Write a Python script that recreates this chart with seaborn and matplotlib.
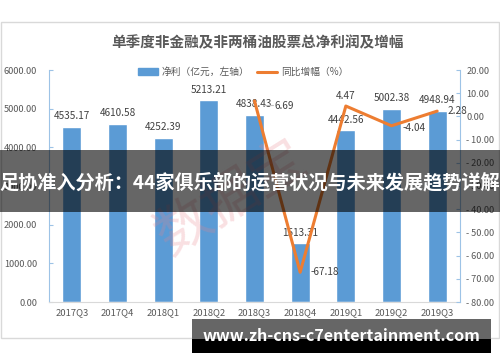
import matplotlib
matplotlib.use("Agg")
import matplotlib.pyplot as plt
import numpy as np
import pandas as pd
import seaborn as sns
from matplotlib.patches import Rectangle
from matplotlib.lines import Line2D

# ---------------- data ----------------
quarters = ["2017Q3", "2017Q4", "2018Q1", "2018Q2", "2018Q3",
            "2018Q4", "2019Q1", "2019Q2", "2019Q3"]
net_profit = [4535.17, 4610.58, 4252.39, 5213.21, 4838.43,
              1513.31, 4442.56, 5002.38, 4948.94]
growth_quarters = ["2018Q3", "2018Q4", "2019Q1", "2019Q2", "2019Q3"]
growth = [6.69, -67.18, 4.47, -4.04, 2.28]
left_ticks = [0, 1000, 2000, 3000, 4000, 5000, 6000]
right_ticks = [-80, -70, -60, -50, -40, -30, -20, -10, 0, 10, 20]
title = "单季度非金融及非两桶油股票总净利润及增幅"
legend_labels = ["净利（亿元，左轴）", "同比增幅（%）"]
banner_text = "足协准入分析：44家俱乐部的运营状况与未来发展趋势详解"
url_text = "www.zh-cns-c7entertainment.com"
watermark_text = "数据宝"

# ---------------- style ----------------
sns.set_style("white")
plt.rcParams["font.family"] = ["Noto Sans CJK SC", "DejaVu Sans"]

BLUE = "#5B9BD5"
ORANGE = "#ED7D31"
SPINE_BLUE = "#9DC3E6"
GRAY_TXT = "#595959"
LABEL_TXT = "#404040"

W, H = 500, 362
fig = plt.figure(figsize=(W / 100, H / 100), dpi=100)
fig.patch.set_facecolor("white")

# chart frame
fig.patches.append(Rectangle((1 / W, 1 - 338 / H), 498 / W, 316 / H,
                             transform=fig.transFigure, fill=False,
                             ec="#D9D9D9", lw=1, zorder=0))

ax = fig.add_axes([49 / W, 1 - 302 / H, 411 / W, 232 / H])
df = pd.DataFrame({"quarter": quarters, "profit": net_profit})
sns.barplot(data=df, x="quarter", y="profit", color=BLUE, saturation=1,
            width=0.41, ax=ax, zorder=2)
ax.set_xlim(-0.5, len(quarters) - 0.5)
ax.set_ylim(left_ticks[0], left_ticks[-1])
ax.set_yticks(left_ticks)
ax.set_yticklabels([f"{v:.2f}" for v in left_ticks])
ax.set_xlabel("")
ax.set_ylabel("")
ax.tick_params(axis="y", direction="in", length=3, width=0.8, color=SPINE_BLUE,
               pad=8.5, labelsize=6.6, labelcolor=GRAY_TXT)
ax.tick_params(axis="x", length=0, pad=4.5, labelsize=6.8, labelcolor=GRAY_TXT)
for s in ["top", "right"]:
    ax.spines[s].set_visible(False)
ax.spines["left"].set_color(SPINE_BLUE)
ax.spines["bottom"].set_color("#D9D9D9")
ax.patch.set_alpha(0)

for i, v in enumerate(net_profit):
    ax.annotate(f"{v:.2f}", (i, v), xytext=(0, 4), textcoords="offset points",
                ha="center", va="bottom", fontsize=7.2, color=LABEL_TXT)

ax2 = ax.twinx()
gdf = pd.DataFrame({"pos": [quarters.index(q) for q in growth_quarters],
                    "growth": growth})
sns.lineplot(data=gdf, x="pos", y="growth", color=ORANGE, lw=2.2, ax=ax2,
             zorder=3)
ax2.set_xlim(-0.5, len(quarters) - 0.5)
ax2.set_ylim(right_ticks[0], right_ticks[-1])
ax2.set_yticks(right_ticks)
ax2.set_yticklabels([f"{v:.2f}".replace("-", "- ") for v in right_ticks])
ax2.set_ylabel("")
ax2.set_xlabel("")
ax2.tick_params(axis="y", direction="in", length=3, width=0.8, color=SPINE_BLUE,
                pad=4.5, labelsize=6.6, labelcolor=GRAY_TXT)
for s in ["top", "left", "bottom"]:
    ax2.spines[s].set_visible(False)
ax2.spines["right"].set_color(SPINE_BLUE)

# growth labels (offsets in pixels)
label_offsets = [(20, -5, "left"), (10, 0, "left"), (0, 10, "center"),
                 (11, -2, "left"), (10, 0, "left")]
for q, g, (dx, dy, ha) in zip(growth_quarters, growth, label_offsets):
    ax2.annotate(f"{g:.2f}", (quarters.index(q), g),
                 xytext=(dx * 0.72, dy * 0.72), textcoords="offset points",
                 ha=ha, va="center", fontsize=7.2, color=LABEL_TXT, zorder=5)
# small leader line for the first growth label
x0 = quarters.index(growth_quarters[0])
lx = ax2.transData.transform((x0, growth[0]))
fig.add_artist(Line2D([(lx[0] + 9) / W, (lx[0] + 19) / W],
                      [(lx[1] - 4) / H, (lx[1] - 4) / H],
                      transform=fig.transFigure, color="#BFBFBF", lw=0.8))

# legend
handles = [Rectangle((0, 0), 1, 1, color=BLUE),
           Line2D([0], [0], color=ORANGE, lw=2.2)]
leg = fig.legend(handles, legend_labels, ncol=2, loc="center",
                 bbox_to_anchor=(243 / W, 1 - 72 / H), frameon=False,
                 fontsize=7, handlelength=2.1, handleheight=0.7,
                 handletextpad=0.35, columnspacing=0.8)
for t in leg.get_texts():
    t.set_color(GRAY_TXT)

# title
fig.text(257 / W, 1 - 42 / H, title, ha="center", va="center",
         fontsize=10.5, fontweight="bold", color=GRAY_TXT)

# watermark
fig.text(232 / W, 1 - 198 / H, watermark_text, rotation=32, ha="center",
         va="center", fontsize=40, color="#E8838C", alpha=0.25, zorder=8)

# overlay banner
fig.patches.append(Rectangle((0, 1 - 212 / H), 1, 62 / H,
                             transform=fig.transFigure, color="black",
                             alpha=0.6, lw=0, zorder=10))
fig.text(250 / W, 1 - 183 / H, banner_text, ha="center", va="center",
         fontsize=13.8, fontweight="bold", color="white", zorder=11)

# url banner
fig.patches.append(Rectangle((192 / W, 1 - 339 / H), 299 / W, 20 / H,
                             transform=fig.transFigure, color="#666666",
                             lw=0, zorder=10))
fig.patches.append(Rectangle((192 / W, 1 - 353 / H), 299 / W, 14 / H,
                             transform=fig.transFigure, color="black",
                             lw=0, zorder=10))
fig.text(341 / W, 1 - 336 / H, url_text, ha="center", va="center",
         fontsize=11.6, fontweight="bold", color="white", zorder=11)

fig.savefig("out.png", dpi=100)
